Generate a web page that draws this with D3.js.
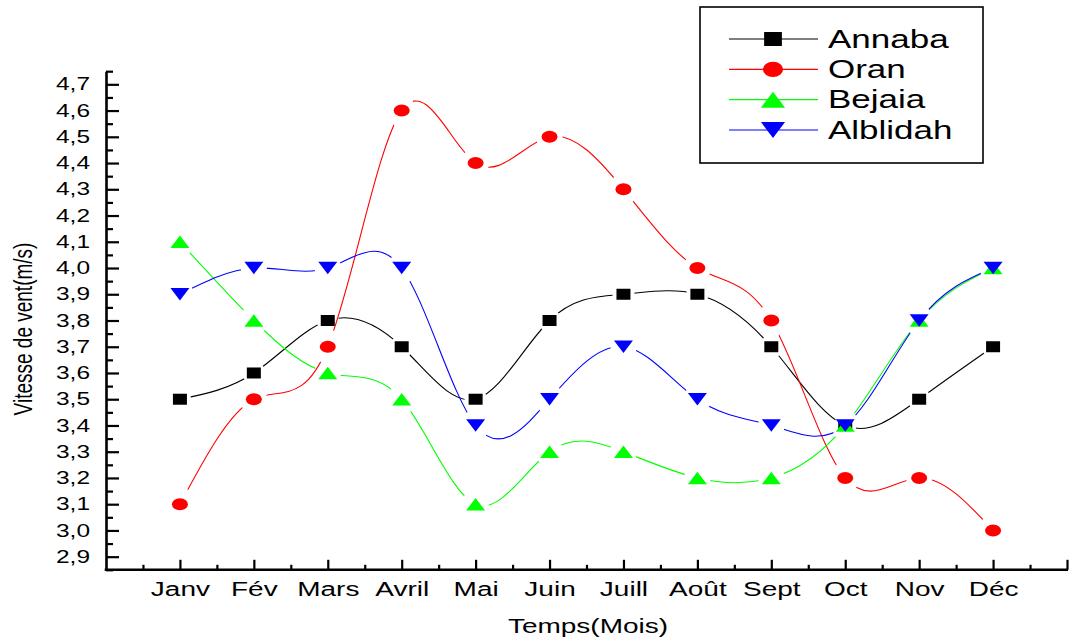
<!DOCTYPE html>
<html>
<head>
<meta charset="utf-8">
<script src="https://cdn.jsdelivr.net/npm/d3@7"></script>
<style>
  html, body { margin: 0; padding: 0; background: #fff; }
  svg { display: block; }
  text { font-family: "Liberation Sans", Arial, sans-serif; fill: #000; }
</style>
</head>
<body>
<svg id="chart" width="1077" height="644"></svg>
<script>
// Mean monthly wind speed (m/s) for four Algerian stations
const months = ["Janv", "Fév", "Mars", "Avril", "Mai", "Juin", "Juill", "Août", "Sept", "Oct", "Nov", "Déc"];
const annaba   = [3.5, 3.6, 3.8, 3.7, 3.5, 3.8, 3.9, 3.9, 3.7, 3.4, 3.5, 3.7];
const oran     = [3.1, 3.5, 3.7, 4.6, 4.4, 4.5, 4.3, 4.0, 3.8, 3.2, 3.2, 3.0];
const bejaia   = [4.1, 3.8, 3.6, 3.5, 3.1, 3.3, 3.3, 3.2, 3.2, 3.4, 3.8, 4.0];
const alblidah = [3.9, 4.0, 4.0, 4.0, 3.4, 3.5, 3.7, 3.5, 3.4, 3.4, 3.8, 4.0];
const seriesNames = ["Annaba", "Oran", "Bejaia", "Alblidah"];
const yTicks = [2.9, 3.0, 3.1, 3.2, 3.3, 3.4, 3.5, 3.6, 3.7, 3.8, 3.9, 4.0, 4.1, 4.2, 4.3, 4.4, 4.5, 4.6, 4.7];

const series = [
  { name: seriesNames[0], values: annaba,   color: "#000000", shape: "square", gap: [11, 12] },
  { name: seriesNames[1], values: oran,     color: "#ff0000", shape: "circle", gap: [13, 18] },
  { name: seriesNames[2], values: bejaia,   color: "#00ff00", shape: "up",     gap: [13, 17] },
  { name: seriesNames[3], values: alblidah, color: "#0000ff", shape: "down",   gap: [13, 17] }
];

const SX = 1.4; // horizontal stretch applied to text
const svg = d3.select("#chart");

const x = d3.scaleLinear().domain([0, 13]).range([106, 1067]);
const y = d3.scaleLinear().domain([2.85, 4.75]).range([569.8, 71.2]);

// symbol path centred on 0,0; k scales the whole symbol
function symbolPath(shape, k) {
  switch (shape) {
    case "square": {
      const hw = 7 * k, hh = 5.5 * k;
      return `M${-hw},${-hh}H${hw}V${hh}H${-hw}Z`;
    }
    case "circle": {
      const rx = 8 * k, ry = 6 * k;
      return `M${-rx},0A${rx},${ry} 0 1,0 ${rx},0A${rx},${ry} 0 1,0 ${-rx},0Z`;
    }
    case "up": {
      const hw = 9.5 * k, hh = 6.3 * k;
      return `M0,${-hh}L${hw},${hh}L${-hw},${hh}Z`;
    }
    case "down": {
      const hw = 9.5 * k, hh = 6.3 * k;
      return `M0,${hh}L${hw},${-hh}L${-hw},${-hh}Z`;
    }
  }
}

// ---- axes ----
const yMinor = d3.range(2.85, 4.76, 0.1);
svg.append("g")
  .attr("transform", `translate(${x(0)},0)`)
  .call(d3.axisLeft(y).tickValues(yMinor).tickSize(-7).tickSizeOuter(0).tickFormat(""))
  .call(g => g.select(".domain").remove())
  .call(g => g.selectAll("line").attr("stroke-width", 2.2));

const yAxisG = svg.append("g")
  .attr("transform", `translate(${x(0)},0)`)
  .call(d3.axisLeft(y).tickValues(yTicks).tickSize(-13).tickSizeOuter(0).tickPadding(16)
        .tickFormat(d => d3.format(".1f")(d).replace(".", ",")));
yAxisG.select(".domain").attr("stroke-width", 2.6);
yAxisG.selectAll("line").attr("stroke-width", 2.2);
yAxisG.selectAll("text")
  .attr("x", -16 / SX)
  .attr("transform", `scale(${SX},1)`)
  .style("font-size", "17.5px")
  .style("font-family", "'Liberation Sans', Arial, sans-serif");

const xMinor = d3.range(0.5, 13, 1);
svg.append("g")
  .attr("transform", `translate(0,${y(2.85)})`)
  .call(d3.axisBottom(x).tickValues(xMinor).tickSize(-5).tickSizeOuter(0).tickFormat(""))
  .call(g => g.select(".domain").remove())
  .call(g => g.selectAll("line").attr("stroke-width", 2.2));

const xAxisG = svg.append("g")
  .attr("transform", `translate(0,${y(2.85)})`)
  .call(d3.axisBottom(x).tickValues(d3.range(1, 14)).tickSize(-10).tickSizeOuter(0).tickPadding(12)
        .tickFormat(d => months[d - 1] || ""));
xAxisG.select(".domain").attr("stroke-width", 2.6).attr("d", `M${x(0) - 1.3},0H${x(13) + 1}`);
xAxisG.selectAll("line").attr("stroke-width", 2.2);
xAxisG.selectAll("text")
  .attr("transform", `scale(${SX},1)`)
  .style("font-size", "20px")
  .style("font-family", "'Liberation Sans', Arial, sans-serif");

// axis titles
svg.append("text")
  .attr("transform", `translate(588,633) scale(${SX},1)`)
  .attr("text-anchor", "middle")
  .style("font-size", "20px")
  .text("Temps(Mois)");

svg.append("text")
  .attr("transform", `translate(32,329) scale(${SX},1) rotate(-90)`)
  .attr("text-anchor", "middle")
  .style("font-size", "19px")
  .text("Vitesse de vent(m/s)");

// ---- series ----
const defs = svg.append("defs");
const line = d3.line()
  .x((d, i) => x(i + 1))
  .y(d => y(d))
  .curve(d3.curveNatural);

// each line is interrupted around its own symbols
series.forEach((s, k) => {
  const m = defs.append("mask")
    .attr("id", "gap" + k)
    .attr("maskUnits", "userSpaceOnUse")
    .attr("x", 0).attr("y", 0).attr("width", 1077).attr("height", 644);
  m.append("rect").attr("width", 1077).attr("height", 644).attr("fill", "#fff");
  m.selectAll("ellipse").data(s.values).join("ellipse")
    .attr("cx", (d, i) => x(i + 1))
    .attr("cy", d => y(d))
    .attr("rx", s.gap[0]).attr("ry", s.gap[1])
    .attr("fill", "#000");
});

const plot = svg.append("g");
series.forEach((s, k) => {
  plot.append("path")
    .datum(s.values)
    .attr("d", line)
    .attr("fill", "none")
    .attr("stroke", s.color)
    .attr("stroke-width", 1.1)
    .attr("mask", `url(#gap${k})`);
});
series.forEach(s => {
  plot.append("g").selectAll("path").data(s.values).join("path")
    .attr("transform", (d, i) => `translate(${x(i + 1)},${y(d)})`)
    .attr("d", symbolPath(s.shape, 1))
    .attr("fill", s.color);
});

// ---- legend ----
const legend = svg.append("g");
legend.append("rect")
  .attr("x", 700).attr("y", 7).attr("width", 283).attr("height", 156)
  .attr("fill", "#fff").attr("stroke", "#000").attr("stroke-width", 1.6);

const rowY = d3.scalePoint().domain(seriesNames).range([39, 130]);
series.forEach(s => {
  const cy = rowY(s.name);
  legend.append("line")
    .attr("x1", 729).attr("x2", 818).attr("y1", cy).attr("y2", cy)
    .attr("stroke", s.color).attr("stroke-width", 1.1);
  legend.append("path")
    .attr("transform", `translate(773,${cy})`)
    .attr("d", symbolPath(s.shape, 1.27))
    .attr("fill", s.color);
  legend.append("text")
    .attr("transform", `translate(828,${cy + 8.5}) scale(${SX},1)`)
    .style("font-size", "25px")
    .text(s.name);
});
</script>
</body>
</html>
